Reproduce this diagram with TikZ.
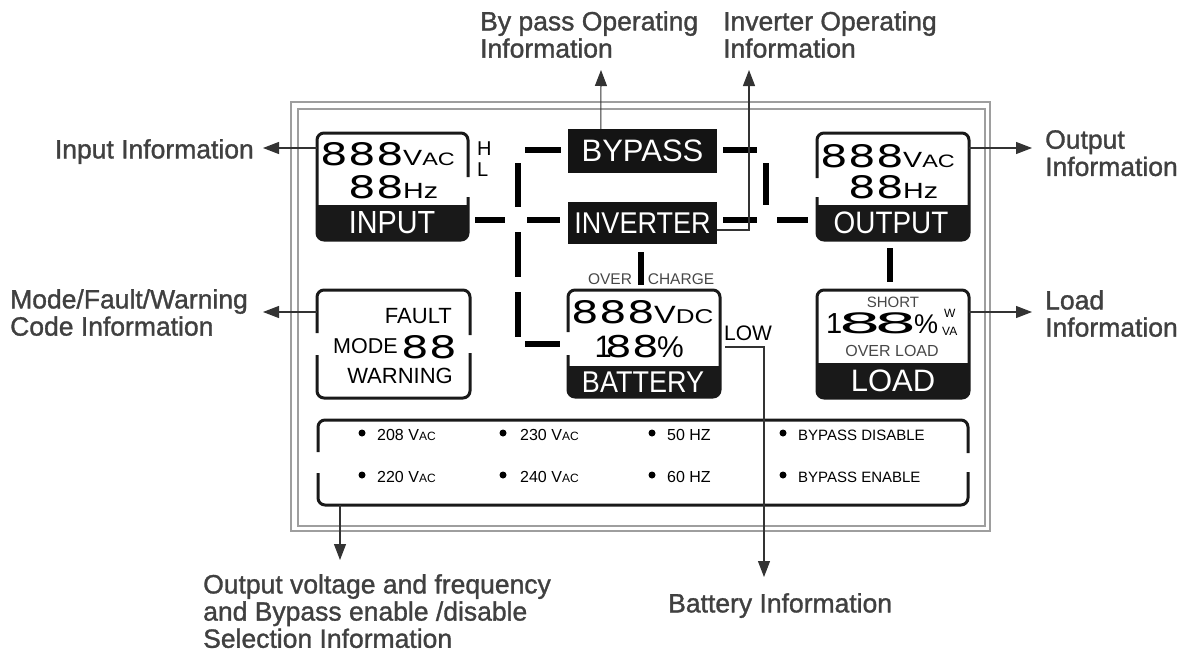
\documentclass[tikz,border=0pt]{standalone}
\usepackage{fontspec}
\setmainfont{Liberation Sans}
\newfontfamily\lcd[FakeStretch=1.4]{DejaVu Sans}
\newfontfamily\lcdwide[FakeStretch=2.4]{DejaVu Sans}
\newfontfamily\cond[FakeStretch=0.9]{Liberation Sans}
\newfontfamily\wide[FakeStretch=1.3]{Liberation Sans}
\newfontfamily\lblfont[FakeBold=1.2]{Liberation Sans}
\usetikzlibrary{arrows.meta,calc}
\newcommand\fs[1]{\fontsize{#1}{#1}\selectfont}
\begin{document}
\begin{tikzpicture}[x=1pt,y=-1pt,
  frame/.style={draw=black!38,line width=1.8pt},
  lcdline/.style={draw=black!90,line width=3pt,rounded corners=7pt},
  band/.style={fill=black!90},
  seg/.style={draw=black,line width=5.5pt},
  infoarrow/.style={draw=black!80,line width=1.1pt,-{Triangle[length=16pt,width=12pt]}},
  lbl/.style={inner sep=0pt,text=black!75,font=\lblfont\fontsize{26.5}{27.2}\selectfont,align=left},
  txt/.style={inner sep=0pt},
  wtxt/.style={inner sep=0pt,text=white},
  dark/.style={fill=black!92,text=white,inner sep=0pt},
  dot/.style={fill=black,circle,inner sep=0pt,minimum size=7pt},
  small/.style={inner sep=0pt,text=black!72},
]
\useasboundingbox (0,0) rectangle (1189,653);

% outer double frame
\draw[frame] (291,102) rectangle (990,531);
\draw[frame] (298,109) rectangle (985,526);

% ---------- INPUT box
\fill[band,rounded corners=7pt] (317,205) rectangle (468,240);
\fill[band] (317,205) rectangle (468,214);
\draw[lcdline] (468,177) -- (468,133) -- (317,133) -- (317,240) -- (468,240) -- (468,197);
\node[txt,anchor=base east] (in888) at (404,165) {\lcd\fs{31}888};
\node[txt,anchor=base west] (invac) at (403,165) {\wide\fs{22}V\fs{18}AC};
\node[txt,anchor=base east] (in88) at (404,198) {\lcd\fs{31}88};
\node[txt,anchor=base west] (inhz) at (403,198) {\wide\fs{22}Hz};
\node[wtxt] (inlbl) at (392,222.5) {\cond\fs{32}INPUT};
\node[txt,anchor=base west] (inH) at (477,155) {\fs{20}H};
\node[txt,anchor=base west] (inL) at (477,176) {\fs{20}L};

% ---------- OUTPUT box
\fill[band,rounded corners=7pt] (817,205) rectangle (969,240);
\fill[band] (817,205) rectangle (969,214);
\draw[lcdline] (817,178) -- (817,133) -- (969,133) -- (969,240) -- (817,240) -- (817,197);
\node[txt,anchor=base east] (out888) at (904,167) {\lcd\fs{31}888};
\node[txt,anchor=base west] (outvac) at (903,167) {\wide\fs{22}V\fs{18}AC};
\node[txt,anchor=base east] (out88) at (904,198) {\lcd\fs{31}88};
\node[txt,anchor=base west] (outhz) at (903,198) {\wide\fs{22}Hz};
\node[wtxt] (outlbl) at (891,222.5) {\cond\fs{31}OUTPUT};

% ---------- BYPASS / INVERTER
\node[dark,minimum width=149pt,minimum height=44pt] (byp) at (642.5,151) {\fs{31}BYPASS};
\node[dark,minimum width=149pt,minimum height=42pt] (inv) at (642.5,223) {\cond\fs{30}INVERTER};

% ---------- MODE box
\draw[lcdline] (317,333) -- (317,290) -- (470,290) -- (470,335);
\draw[lcdline] (317,355) -- (317,398) -- (470,398) -- (470,353);
\node[txt,anchor=base east] (mfault) at (452,323) {\fs{22}FAULT};
\node[txt,anchor=base west] (mmode) at (333,353) {\fs{21.5}MODE};
\node[txt,anchor=base east] (m88) at (457,358) {\lcd\fs{31}88};
\node[txt,anchor=base east] (mwarn) at (453,383) {\fs{22}WARNING};

% ---------- BATTERY box
\fill[band,rounded corners=7pt] (568,366) rectangle (720,397);
\fill[band] (568,366) rectangle (720,375);
\draw[lcdline] (568,332) -- (568,290) -- (720,290) -- (720,397) -- (568,397) -- (568,355);
\node[txt,anchor=base east] (b888) at (655,323) {\lcd\fs{31}888};
\node[txt,anchor=base west] (bvdc) at (654,323) {\wide\fs{25}V\fs{20}DC};
\node[txt,anchor=base west] (b188) at (594.5,357) {\fs{31}1\kern-6.5pt{\lcd\fs{30}88}};
\node[txt,anchor=base west] (bpct) at (657,357) {\fs{30}\%};
\node[wtxt] (blbl) at (643,382) {\cond\fs{30}BATTERY};
\node[small] (bover) at (610,279) {\fs{15.5}OVER};
\node[small] (bcharge) at (681,279) {\fs{15.5}CHARGE};
\node[txt,anchor=base west] (blow) at (724,340) {\fs{21}LOW};

% ---------- LOAD box
\fill[band,rounded corners=7pt] (817,363) rectangle (969,398);
\fill[band] (817,363) rectangle (969,372);
\draw[lcdline] (817,290) rectangle (969,398);
\node[small] (lshort) at (893,302) {\fs{15}SHORT};
\node[txt,anchor=base west] (l188) at (826,333) {\fs{29}1\kern-4pt{\lcdwide\fs{28}8\kern-7pt 8}};
\node[txt,anchor=base west] (lpct) at (914,333) {\fs{27}\%};
\node[txt,anchor=base west] (lw) at (944,317) {\fs{12}W};
\node[txt,anchor=base west] (lva) at (942,335) {\fs{12}VA};
\node[small] (lover) at (892,351) {\fs{16}OVER LOAD};
\node[wtxt] (llbl) at (893,380.5) {\fs{31}LOAD};

% ---------- selection panel
\draw[lcdline] (318,452) -- (318,420) -- (968,420) -- (968,453);
\draw[lcdline] (318,473) -- (318,505) -- (968,505) -- (968,472);
\foreach \nm/\x in {a/362,b/503,c/652,d/783}{
  \node[dot] (dot1\nm) at (\x,433) {};
  \node[dot] (dot2\nm) at (\x,475) {};
}
\node[txt,anchor=base west] (s208) at (377,440) {\fs{16}208 V\fs{12}AC};
\node[txt,anchor=base west] (s230) at (520,440) {\fs{16}230 V\fs{12}AC};
\node[txt,anchor=base west] (s50) at (667,440) {\fs{16}50 HZ};
\node[txt,anchor=base west] (sdis) at (798,440) {\fs{15}BYPASS DISABLE};
\node[txt,anchor=base west] (s220) at (377,482) {\fs{16}220 V\fs{12}AC};
\node[txt,anchor=base west] (s240) at (520,482) {\fs{16}240 V\fs{12}AC};
\node[txt,anchor=base west] (s60) at (667,482) {\fs{16}60 HZ};
\node[txt,anchor=base west] (sen) at (798,482) {\fs{15}BYPASS ENABLE};

% ---------- LCD segment dashes
\draw[seg] (475,220) -- (505,220);
\draw[seg] (527,220) -- (560,220);
\draw[seg] (525,150) -- (561,150);
\draw[seg] (518,163) -- (518,207);
\draw[seg] (518,232) -- (518,277);
\draw[seg] (518,292) -- (518,337);
\draw[seg] (525,344) -- (560,344);
\draw[seg] (641,252) -- (641,285);
\draw[seg] (723,150) -- (757,150);
\draw[seg] (766,163) -- (766,205);
\draw[seg] (723,220) -- (757,220);
\draw[seg] (777,220) -- (808,220);
\draw[seg] (890,248) -- (890,282);

% ---------- outside labels
\node[lbl,anchor=north east] (lblin) at (254,139) {Input Information};
\node[lbl,anchor=north west] (lblmode) at (10,289) {Mode/Fault/Warning\\Code Information};
\node[lbl,anchor=north west] (lblbyp) at (480,11) {By pass Operating\\Information};
\node[lbl,anchor=north west] (lblinv) at (723,11) {Inverter Operating\\Information};
\node[lbl,anchor=north west] (lblout) at (1045,130) {Output\\Information};
\node[lbl,anchor=north west] (lblload) at (1045,290) {Load\\Information};
\node[lbl,anchor=north west] (lblbat) at (668,593) {Battery Information};
\node[lbl,anchor=north west] (lblsel) at (203,574) {Output voltage and frequency\\and Bypass enable /disable\\Selection Information};

% ---------- arrow end points
\coordinate (inS) at (317,148);   \coordinate (inT) at (263,148);
\coordinate (modeS) at (317,312); \coordinate (modeT) at (263,312);
\coordinate (bypS) at ($(byp.north west)+(33,0)$); \coordinate (bypT) at (601,70);
\coordinate (invS) at ($(inv.east)+(0,7)$); \coordinate (invK) at (749,230); \coordinate (invT) at (749,70);
\coordinate (outS) at (969,148);  \coordinate (outT) at (1032,148);
\coordinate (loadS) at (969,312); \coordinate (loadT) at (1032,312);
\coordinate (selS) at (340,505);  \coordinate (selT) at (340,560);
\coordinate (batS) at (725,347);  \coordinate (batK) at (764,347); \coordinate (batT) at (764,577);

\draw[infoarrow] (inS) -- (inT);
\draw[infoarrow] (modeS) -- (modeT);
\draw[infoarrow] (bypS) -- (bypT);
\draw[infoarrow] (invS) -- (invK) -- (invT);
\draw[infoarrow] (outS) -- (outT);
\draw[infoarrow] (loadS) -- (loadT);
\draw[infoarrow] (selS) -- (selT);
\draw[infoarrow] (batS) -- (batK) -- (batT);
\end{tikzpicture}
\end{document}
